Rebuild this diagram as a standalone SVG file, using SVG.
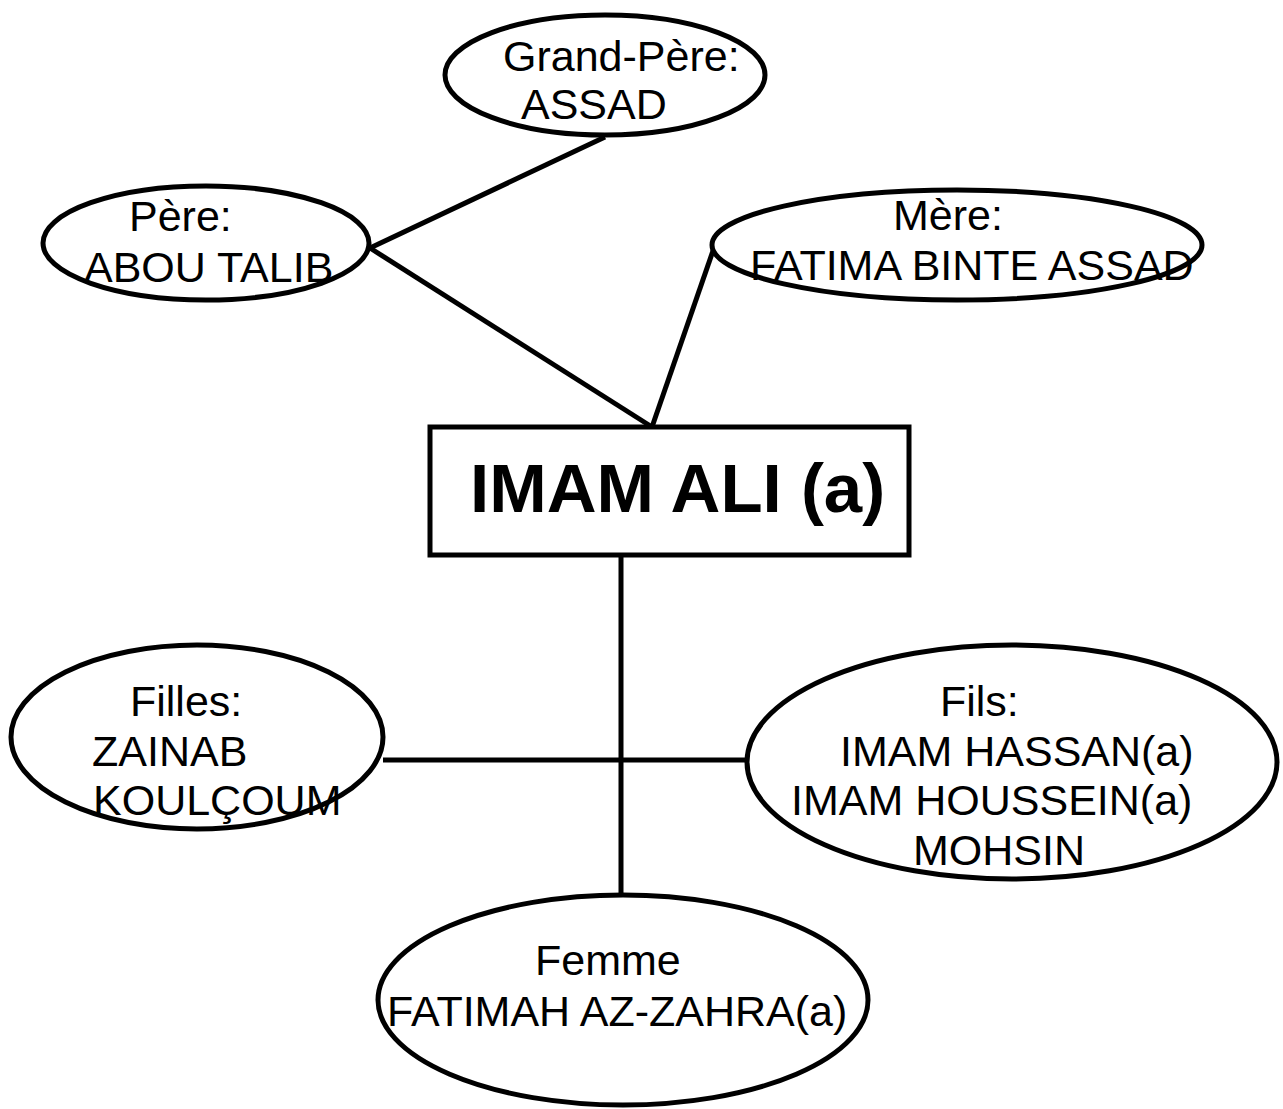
<svg xmlns="http://www.w3.org/2000/svg" width="1283" height="1109" viewBox="0 0 1283 1109">
<style>
.n{fill:#fff;stroke:#000;stroke-width:5}
.c{stroke:#000;stroke-width:5;fill:none}
text{font-family:"Liberation Sans",Arial,sans-serif;font-size:43px;fill:#000}
.b{font-weight:bold;font-size:69px}
</style>
<rect width="1283" height="1109" fill="#fff"/>
<g id="connectors">
<line class="c" x1="605" y1="137" x2="370" y2="248"/>
<line class="c" x1="370" y1="248" x2="652" y2="427"/>
<line class="c" x1="652" y1="427" x2="715" y2="245"/>
<line class="c" x1="621" y1="555" x2="621" y2="902"/>
<line class="c" x1="383" y1="760" x2="747" y2="760"/>
</g>
<g id="grandpere">
<ellipse class="n" cx="605" cy="75" rx="160" ry="60"/>
<text x="503" y="71">Grand-Père:</text>
<text x="521" y="119">ASSAD</text>
</g>
<g id="pere">
<ellipse class="n" cx="206" cy="243" rx="163" ry="57"/>
<text x="129" y="231">Père:</text>
<text x="84" y="282">ABOU TALIB</text>
</g>
<g id="mere">
<ellipse class="n" cx="957" cy="245" rx="245" ry="55"/>
<text x="893" y="230">Mère:</text>
<text x="750" y="280">FATIMA BINTE ASSAD</text>
</g>
<g id="imamali">
<rect class="n" x="430" y="427" width="479" height="128"/>
<text class="b" x="470" y="512">IMAM ALI (a)</text>
</g>
<g id="filles">
<ellipse class="n" cx="197" cy="737" rx="186" ry="92"/>
<text x="130" y="716">Filles:</text>
<text x="92" y="766">ZAINAB</text>
<text x="93" y="815">KOULÇOUM</text>
</g>
<g id="fils">
<ellipse class="n" cx="1012" cy="762" rx="265" ry="117"/>
<text x="940" y="716">Fils:</text>
<text x="840" y="766">IMAM HASSAN(a)</text>
<text x="791" y="815">IMAM HOUSSEIN(a)</text>
<text x="913" y="865">MOHSIN</text>
</g>
<g id="femme">
<ellipse class="n" cx="623" cy="1000" rx="245" ry="105"/>
<text x="535" y="975">Femme</text>
<text x="387" y="1026">FATIMAH AZ-ZAHRA(a)</text>
</g>
</svg>
